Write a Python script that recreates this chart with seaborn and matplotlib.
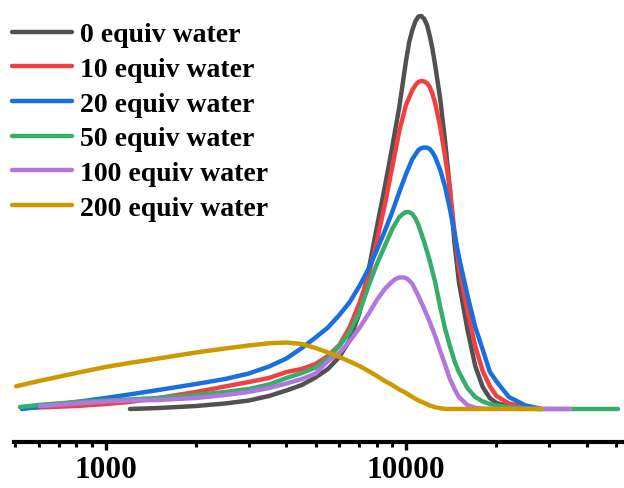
import numpy as np
import pandas as pd
import matplotlib
matplotlib.use("Agg")
import matplotlib.pyplot as plt
import matplotlib.ticker as mticker
import seaborn as sns

# ---------------- data ----------------
series_labels = ["0 equiv water", "10 equiv water", "20 equiv water",
                 "50 equiv water", "100 equiv water", "200 equiv water"]
series_colors = ["#515151", "#F14040", "#1A6FDF", "#37AD6B", "#B177DE", "#CC9900"]

mw_0 = [1206, 1500, 2000, 2500, 3000, 3500, 4000, 4500, 5000, 5500, 6000, 6500,
        7000, 7500, 8000, 8500, 9000, 9500, 10000, 10250, 10500, 10750, 11000, 11250,
        11500, 11750, 12000, 12250, 12500, 13000, 13500, 14000, 14500, 15000, 16000,
        17000, 18000, 19000, 20000, 22000, 25000, 28000]
int_0 = [0.0, 0.25, 0.76, 1.40, 2.16, 3.31, 4.71, 6.11, 8.02, 10.18, 13.23, 17.56,
         24.43, 35.11, 46.31, 56.49, 66.67, 76.84, 88.55, 93.40, 96.44, 98.70, 99.87, 100.0,
         99.24, 97.70, 94.91, 91.60, 87.53, 78.88, 67.94, 55.98, 42.24, 32.32, 20.36,
         10.94, 5.60, 2.80, 1.53, 0.64, 0.13, 0.0]

mw_10 = [527, 600, 800, 1000, 1200, 1500, 2000, 2500, 3000, 3500, 4000, 4500, 5000,
         5500, 6000, 6500, 7000, 7500, 8000, 8500, 9000, 9500, 10000, 10500, 10750,
         11000, 11250, 11500, 11750, 12000, 12250, 12500, 13000, 13500, 14000, 14500,
         15000, 16000, 17000, 18000, 19000, 20000, 22000, 25000, 26874]
int_10 = [0.25, 0.38, 0.76, 1.27, 1.78, 2.80, 4.33, 5.73, 6.87, 7.89, 9.41, 10.18, 11.45,
          13.49, 16.28, 20.87, 26.97, 33.84, 42.75, 51.91, 61.58, 70.74, 77.35, 81.17, 82.40,
          83.21, 83.50, 83.33, 82.90, 81.93, 80.20, 77.86, 71.76, 64.12, 55.98, 45.04,
          36.13, 24.94, 16.03, 9.67, 5.85, 3.31, 1.40, 0.51, 0.13]

mw_20 = [527, 600, 800, 1000, 1200, 1500, 2000, 2500, 3000, 3500, 4000, 4500, 5000,
         5500, 6000, 6500, 7000, 7500, 8000, 8500, 9000, 9500, 10000, 10500, 11000,
         11250, 11500, 11750, 12000, 12250, 12500, 13000, 13500, 14000, 14500, 15000,
         16000, 17000, 18000, 19000, 20000, 22000, 25000, 28000]
int_20 = [0.0, 0.51, 1.78, 2.80, 3.69, 4.83, 6.36, 7.63, 9.03, 10.81, 12.85, 15.52, 18.19,
          20.74, 23.92, 27.23, 31.30, 35.62, 40.46, 45.29, 50.13, 55.22, 59.80, 63.61, 65.90,
          66.40, 66.54, 66.50, 66.16, 65.30, 64.12, 60.81, 56.49, 50.89, 44.78, 38.68,
          29.09, 20.87, 15.11, 9.49, 7.02, 3.05, 0.89, 0.13]

mw_50 = [519, 600, 800, 1000, 1200, 1500, 2000, 2500, 3000, 3500, 4000, 4500, 5000,
         5500, 6000, 6500, 7000, 7500, 8000, 8500, 9000, 9500, 9750, 10000, 10250,
         10500, 10750, 11000, 11500, 12000, 12500, 13000, 13500, 14000, 14500, 15000,
         16000, 17000, 18000, 19000, 20000, 22000, 25000, 28000, 50763]
int_50 = [0.51, 1.02, 1.78, 2.16, 2.42, 2.80, 3.56, 4.33, 5.09, 6.23, 7.89, 9.16, 10.56,
          12.98, 16.03, 19.59, 24.68, 31.30, 36.90, 41.48, 45.80, 48.85, 49.60, 50.13, 50.10,
          49.62, 48.50, 46.82, 42.49, 37.66, 32.32, 25.95, 20.36, 16.03, 12.21, 9.41,
          5.34, 3.05, 1.91, 1.27, 0.89, 0.51, 0.18, 0.0, 0.0]

mw_100 = [605, 800, 1000, 1200, 1500, 2000, 2500, 3000, 3500, 4000, 4500, 5000,
          5500, 6000, 6500, 7000, 7500, 8000, 8500, 9000, 9250, 9500, 9750, 10000, 10250,
          10500, 11000, 11500, 12000, 12500, 13000, 13500, 14000, 14500, 15000, 16000,
          17000, 18000, 35141]
int_100 = [0.69, 1.40, 1.91, 2.16, 2.29, 2.80, 3.56, 4.33, 5.34, 6.49, 7.63, 9.03,
           12.21, 14.25, 17.30, 20.61, 24.17, 27.74, 30.53, 32.44, 33.10, 33.46, 33.50, 33.33,
           32.70, 31.81, 28.75, 25.45, 22.14, 18.58, 14.76, 11.20, 7.63, 5.09, 3.05, 1.02,
           0.31, 0.08, 0.0]

mw_200 = [504, 600, 800, 1000, 1200, 1500, 2000, 2500, 3000, 3500, 4000, 4500, 5000,
          5500, 6000, 6500, 7000, 7500, 8000, 8500, 9000, 9500, 10000, 10500, 11000,
          11500, 12000, 12500, 13000, 13500, 14000, 28287]
int_200 = [5.78, 7.12, 9.16, 10.69, 11.70, 12.85, 14.38, 15.39, 16.16, 16.72, 16.92, 16.54,
           15.52, 14.38, 13.23, 12.09, 10.94, 9.67, 8.40, 7.12, 6.11, 4.96, 4.07, 3.05,
           2.16, 1.53, 0.89, 0.43, 0.18, 0.03, 0.0, 0.0]

tick_values = [1000, 10000]
tick_labels = ["1000", "10000"]

# ---------------- build long-form table ----------------
all_mw = [mw_0, mw_10, mw_20, mw_50, mw_100, mw_200]
all_int = [int_0, int_10, int_20, int_50, int_100, int_200]
frames = []
for lab, xs, ys in zip(series_labels, all_mw, all_int):
    frames.append(pd.DataFrame({"MW": xs, "Intensity": ys, "Sample": lab}))
df = pd.concat(frames, ignore_index=True)

# ---------------- style ----------------
sns.set_theme(style="white")
plt.rcParams["font.family"] = ["Liberation Serif", "DejaVu Serif"]
plt.rcParams["font.weight"] = "bold"
plt.rcParams["text.color"] = "black"
plt.rcParams["xtick.color"] = "black"
plt.rcParams["axes.labelcolor"] = "black"
plt.rcParams["axes.edgecolor"] = "black"

W, H = 624, 489
fig = plt.figure(figsize=(W / 100, H / 100), dpi=100)
ax = fig.add_axes([14 / W, (H - 443) / H, (W - 14) / W, 443 / H])

for lab, col in zip(series_labels, series_colors):
    sub = df[df["Sample"] == lab]
    sns.lineplot(data=sub, x="MW", y="Intensity", color=col, linewidth=3.2,
                 estimator=None, sort=False, ax=ax, label=lab,
                 solid_capstyle="round", solid_joinstyle="round", legend=False)

ax.set_xscale("log")
ax.set_xlim(496, 53150)
ax.set_ylim(-8.40, 104.33)

ax.set_xticks(tick_values)
ax.set_xticklabels(tick_labels)
ax.xaxis.set_minor_locator(mticker.LogLocator(base=10, subs=np.arange(2, 10)))
ax.xaxis.set_minor_formatter(mticker.NullFormatter())
ax.set_yticks([])
ax.set_xlabel("")
ax.set_ylabel("")

for s in ["left", "right", "top"]:
    ax.spines[s].set_visible(False)
ax.spines["bottom"].set_linewidth(3.0)
ax.spines["bottom"].set_color("black")
ax.tick_params(axis="x", which="major", direction="out", length=6, width=2.4,
               color="black", labelcolor="black", labelsize=22.5, pad=3.5, bottom=True)
ax.tick_params(axis="x", which="minor", direction="out", length=3.5, width=2.2,
               color="black", bottom=True)
for t in ax.get_xticklabels():
    t.set_fontweight("bold")
    t.set_fontfamily(["Liberation Serif", "DejaVu Serif"])
    t.set_color("black")

handles = ax.get_lines()
leg = ax.legend(handles, series_labels, loc="upper left",
                bbox_to_anchor=(12 / W, 1 - 23 / H), bbox_transform=fig.transFigure,
                frameon=False, borderpad=0, borderaxespad=0, handlelength=2.16,
                handletextpad=0.27, labelspacing=0.33,
                prop={"family": ["Liberation Serif", "DejaVu Serif"], "weight": "bold", "size": 20})
for t in leg.get_texts():
    t.set_color("black")

fig.savefig("out.png", dpi=100)
